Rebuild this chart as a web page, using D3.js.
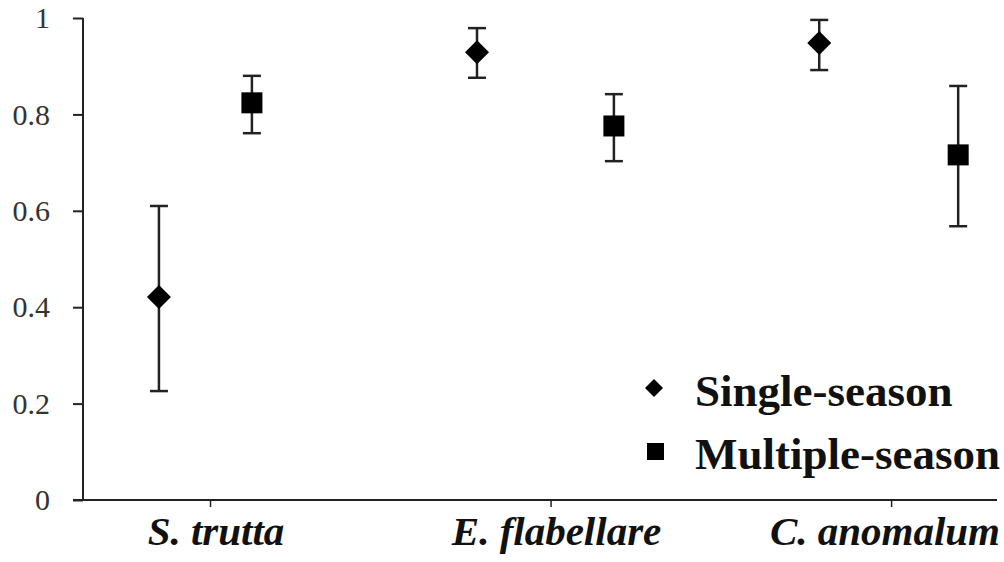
<!DOCTYPE html>
<html>
<head>
<meta charset="utf-8">
<title>Occupancy estimates</title>
<style>
  body { margin: 0; background: #fff; }
  svg { display: block; }
</style>
</head>
<body>
<script src="https://d3js.org/d3.v7.min.js"></script>
<script>

// species on the x axis, at positions 1, 2, 3
var species = ["S. trutta", "E. flabellare", "C. anomalum"];
var speciesPos = [1, 2, 3];

// single-season estimates with lower / upper bounds
var singleX = [0.85, 1.784, 2.789];
var singleVal = [0.421, 0.929, 0.948];
var singleLo = [0.226, 0.876, 0.892];
var singleHi = [0.61, 0.979, 0.996];

// multiple-season estimates
var multiX = [1.123, 2.186, 3.197];
var multiVal = [0.824, 0.776, 0.716];
var multiLo = [0.761, 0.703, 0.568];
var multiHi = [0.88, 0.842, 0.859];

var yTicks = [0, 0.2, 0.4, 0.6, 0.8, 1];
var legendNames = ["Single-season", "Multiple-season"];

var width = 1004, height = 562;

var svg = d3.select("body").append("svg")
    .attr("width", width)
    .attr("height", height);

var x = d3.scaleLinear().domain([0.627, 3.311]).range([83, 997]);
var y = d3.scaleLinear().domain([0, 1]).range([500, 18]);

// y axis
var yAxis = svg.append("g")
    .attr("transform", "translate(83,0)")
    .call(d3.axisLeft(y).tickValues(yTicks).tickSize(10).tickPadding(23)
        .tickFormat(function(d){ return d === 0 || d === 1 ? d : d3.format(".1f")(d); }));
yAxis.select(".domain").attr("stroke", "#222").attr("stroke-width", 2).attr("d", "M0,18V500");
yAxis.selectAll(".tick line").attr("stroke", "#222").attr("stroke-width", 2);
yAxis.selectAll(".tick text")
    .attr("fill", "#333")
    .style("font-family", "'Liberation Serif', serif")
    .style("font-size", "30px");

// x axis
var xAxis = svg.append("g")
    .attr("transform", "translate(0,500)")
    .call(d3.axisBottom(x).tickValues(speciesPos).tickSize(7).tickFormat(""));
xAxis.select(".domain").attr("stroke", "#222").attr("stroke-width", 2).attr("d", "M73,0H997");
xAxis.selectAll(".tick line").attr("stroke", "#222").attr("stroke-width", 1.5);

var labels = svg.append("g").selectAll("text")
    .data(species)
    .enter().append("text")
    .attr("x", function(d, i){ return x(speciesPos[i]) + 6; })
    .attr("y", 545)
    .attr("text-anchor", "middle")
    .style("font-family", "'Liberation Serif', serif")
    .style("font-weight", "bold")
    .style("font-style", "italic")
    .style("font-size", "41px")
    .attr("fill", "#111")
    .text(function(d){ return d; });
// keep the last label inside the picture
labels.each(function(){
    var b = this.getBBox();
    if (b.x + b.width > 1000) {
        d3.select(this).attr("x", +d3.select(this).attr("x") - (b.x + b.width - 1000));
    }
});

function errorBars(xs, lo, hi) {
    var g = svg.append("g").attr("stroke", "#222").attr("stroke-width", 2.5);
    g.selectAll("line.v").data(xs).enter().append("line")
        .attr("x1", function(d){ return x(d); })
        .attr("x2", function(d){ return x(d); })
        .attr("y1", function(d, i){ return y(lo[i]); })
        .attr("y2", function(d, i){ return y(hi[i]); });
    [lo, hi].forEach(function(arr){
        g.selectAll(null).data(xs).enter().append("line")
            .attr("x1", function(d){ return x(d) - 9; })
            .attr("x2", function(d){ return x(d) + 9; })
            .attr("y1", function(d, i){ return y(arr[i]); })
            .attr("y2", function(d, i){ return y(arr[i]); });
    });
}

errorBars(singleX, singleLo, singleHi);
errorBars(multiX, multiLo, multiHi);

var diamond = "M0,-12L12,0L0,12L-12,0Z";

svg.append("g").selectAll("path")
    .data(singleX)
    .enter().append("path")
    .attr("d", diamond)
    .attr("fill", "#000")
    .attr("transform", function(d, i){ return "translate(" + x(d) + "," + y(singleVal[i]) + ")"; });

svg.append("g").selectAll("rect")
    .data(multiX)
    .enter().append("rect")
    .attr("x", function(d){ return x(d) - 10.5; })
    .attr("y", function(d, i){ return y(multiVal[i]) - 10.5; })
    .attr("width", 21)
    .attr("height", 21)
    .attr("fill", "#000");

// legend
var legend = svg.append("g");
legend.append("path")
    .attr("d", "M0,-9L9,0L0,9L-9,0Z")
    .attr("transform", "translate(654,388)")
    .attr("fill", "#000");
legend.append("rect")
    .attr("x", 647).attr("y", 443)
    .attr("width", 17).attr("height", 17)
    .attr("fill", "#000");
legend.selectAll("text")
    .data(legendNames)
    .enter().append("text")
    .attr("x", 695)
    .attr("y", function(d, i){ return 406 + i * 63; })
    .style("font-family", "'Liberation Serif', serif")
    .style("font-weight", "bold")
    .style("font-size", "45px")
    .attr("fill", "#111")
    .text(function(d){ return d; });

</script>
</body>
</html>
